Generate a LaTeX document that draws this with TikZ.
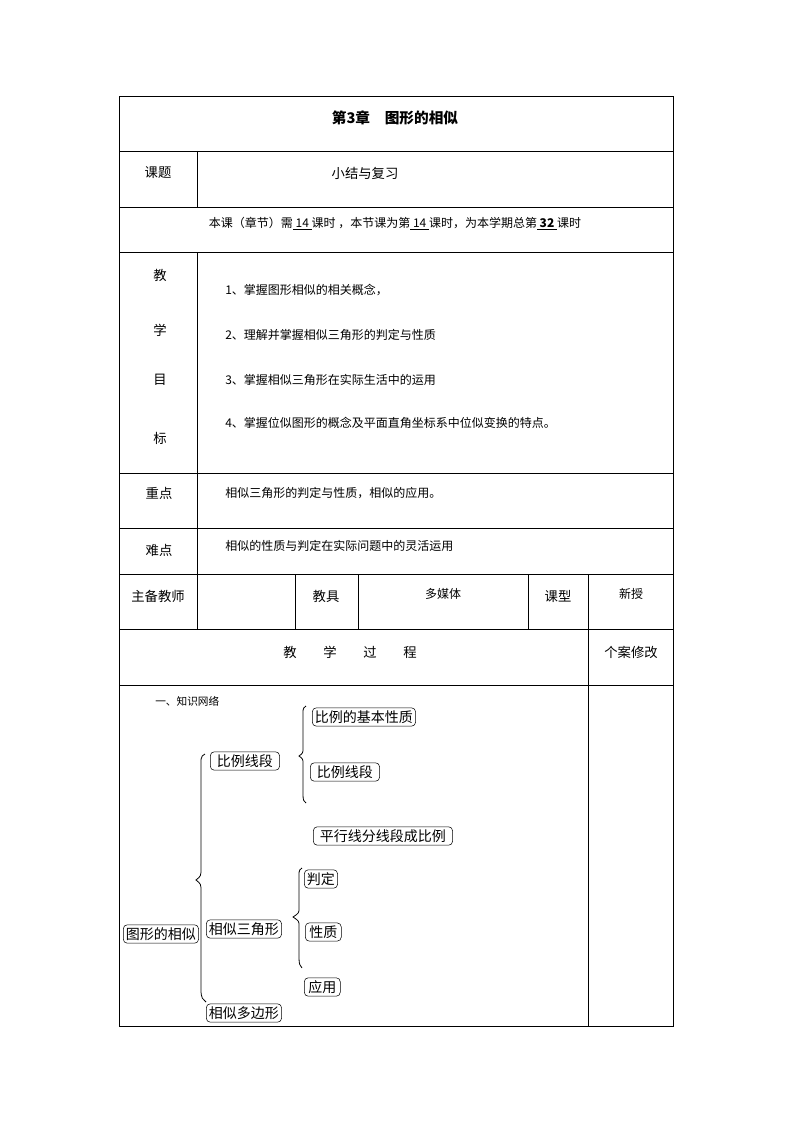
\documentclass[tikz,border=0pt]{standalone}
\usepackage{fontspec}
\setmainfont{Noto Sans CJK SC}
\begin{document}
\begin{tikzpicture}[x=0.75pt,y=-0.75pt,
  t/.style={font=\fontsize{10}{12}\selectfont,inner sep=0pt},
  bx/.style={draw,rounded corners=3pt,font=\fontsize{10.5}{12}\selectfont,inner sep=2pt,anchor=west},
  ln/.style={line width=0.6pt}]
\useasboundingbox (0,0) rectangle (794,1123);
\draw[ln] (119,96) rectangle (673,1026);
\foreach \y in {151,207,252,473,528,574,629,685} \draw[ln] (119,\y)--(673,\y);
\draw[ln] (197,151)--(197,207);
\draw[ln] (197,252)--(197,629);
\draw[ln] (295,574)--(295,629);
\draw[ln] (358,574)--(358,629);
\draw[ln] (528,574)--(528,629);
\draw[ln] (588,574)--(588,1026);
\node[t,font=\bfseries\fontsize{11}{13}\selectfont] (title) at (395,118) {第3章\quad 图形的相似};
\node[t] (kt) at (158,173) {课题};
\node[t] (kt2) at (365,173) {小结与复习};
\node[t,font=\fontsize{9}{11}\selectfont] (info) at (395,224) {本课（章节）需\underline{\ 14\ }课时\ ，本节课为第\underline{\ 14\ }课时，为本学期总第\underline{\ \textbf{32}\ }课时};
\node[t] (j1) at (160,275) {教};
\node[t] (j2) at (160,330) {学};
\node[t] (j3) at (160,380) {目};
\node[t] (j4) at (160,438) {标};
\node[t,anchor=west,font=\fontsize{9}{11}\selectfont] (o1) at (225,290) {1、掌握图形相似的相关概念，};
\node[t,anchor=west,font=\fontsize{9}{11}\selectfont] (o2) at (225,335) {2、理解并掌握相似三角形的判定与性质};
\node[t,anchor=west,font=\fontsize{9}{11}\selectfont] (o3) at (225,380) {3、掌握相似三角形在实际生活中的运用};
\node[t,anchor=west,font=\fontsize{9}{11}\selectfont] (o4) at (225,423) {4、掌握位似图形的概念及平面直角坐标系中位似变换的特点。};
\node[t] (zd) at (159,493) {重点};
\node[t,anchor=west,font=\fontsize{9}{11}\selectfont] (zd2) at (225,493) {相似三角形的判定与性质，相似的应用。};
\node[t] (nd) at (159,550) {难点};
\node[t,anchor=west,font=\fontsize{9}{11}\selectfont] (nd2) at (225,546) {相似的性质与判定在实际问题中的灵活运用};
\node[t] (zb) at (158,596) {主备教师};
\node[t] (jj) at (326,596) {教具};
\node[t,font=\fontsize{9}{11}\selectfont] (dmt) at (443,594) {多媒体};
\node[t] (kx) at (558,596) {课型};
\node[t,font=\fontsize{9}{11}\selectfont] (xs) at (631,594) {新授};
\node[t] (jx) at (350,652) {教\qquad 学\qquad 过\qquad 程};
\node[t] (ga) at (631,652) {个案修改};
\node[t,anchor=west,font=\fontsize{8}{10}\selectfont] (zw) at (155,701) {一、知识网络};
\node[bx] (b1) at (312,717) {比例的基本性质};
\node[bx,inner xsep=5pt] (b2) at (310,772) {比例线段};
\node[bx,inner xsep=5pt] (b3) at (313,836) {平行线分线段成比例};
\node[bx] (b4) at (304,879) {判定};
\node[bx,inner xsep=3pt] (b5) at (305,932) {性质};
\node[bx,inner xsep=3pt] (b6) at (304,987) {应用};
\node[bx] (r) at (123,934) {图形的相似};
\node[bx,inner xsep=5pt] (c1) at (210,761) {比例线段};
\node[bx] (c2) at (206,929) {相似三角形};
\node[bx] (c3) at (206,1013) {相似多边形};
\draw[ln] (205,754) .. controls (200,756) and (201,760) .. (201,770) -- (201,868) .. controls (201,876) .. (196,880) .. controls (201,884) .. (201,892) -- (201,990) .. controls (201,998) and (203,1000) .. (206,1002);
\draw[ln] (306,706) .. controls (302,708) and (303,712) .. (303,718) -- (303,748) .. controls (303,753) .. (299,756) .. controls (303,759) .. (303,764) -- (303,795) .. controls (303,800) and (304,802) .. (306,803);
\draw[ln] (302,868) .. controls (298,870) and (299,874) .. (299,880) -- (299,908) .. controls (299,913) .. (293,917) .. controls (299,921) .. (299,926) -- (299,958) .. controls (299,964) and (300,966) .. (302,968);
\end{tikzpicture}
\end{document}
